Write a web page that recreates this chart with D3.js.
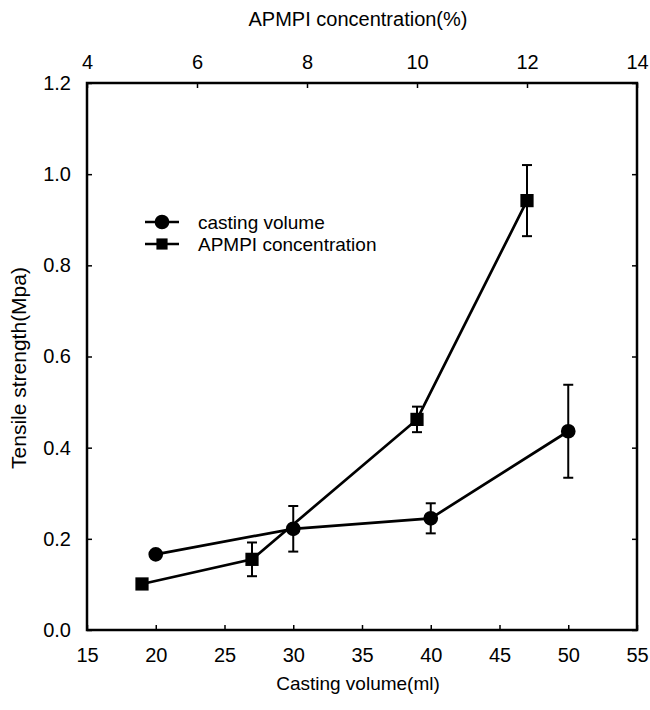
<!DOCTYPE html>
<html>
<head>
<meta charset="utf-8">
<script src="https://cdn.jsdelivr.net/npm/d3@7"></script>
<style>
  body { margin: 0; background: #fff; }
  svg { font-family: "Liberation Sans", Arial, sans-serif; }
</style>
</head>
<body>
<svg id="chart" width="650" height="710"></svg>
<script>
// casting volume series (bottom axis)
const volume = [20, 30, 40, 50];
const volumeTS = [0.166, 0.222, 0.245, 0.436];
const volumeErr = [0, 0.05, 0.033, 0.102];

// APMPI concentration series (top axis)
const conc = [5, 7, 10, 12];
const concTS = [0.101, 0.155, 0.462, 0.942];
const concErr = [0, 0.037, 0.028, 0.078];

const volTicks = [15, 20, 25, 30, 35, 40, 45, 50, 55];
const concTicks = [4, 6, 8, 10, 12, 14];
const tsTicks = [0, 0.2, 0.4, 0.6, 0.8, 1.0, 1.2];

const svg = d3.select("#chart");
const L = 87, R = 637, T = 83, B = 630;
const FS = 20;

const xVol = d3.scaleLinear().domain([15, 55]).range([L, R]);
const xConc = d3.scaleLinear().domain([4, 14]).range([L, R]);
const y = d3.scaleLinear().domain([0, 1.2]).range([B, T]);

// axes: ticks point inward, like the original
const styleAxis = g => {
  g.select(".domain").remove();
  g.selectAll(".tick line").attr("stroke", "#000").attr("stroke-width", 1.5);
  g.selectAll(".tick text").attr("fill", "#000").attr("font-size", FS);
};

svg.append("g")
  .attr("transform", `translate(0,${B})`)
  .call(d3.axisBottom(xVol).tickValues(volTicks).tickSizeInner(-5).tickPadding(18).tickSizeOuter(0))
  .call(styleAxis);

svg.append("g")
  .attr("transform", `translate(0,${T})`)
  .call(d3.axisTop(xConc).tickValues(concTicks).tickSizeInner(-5).tickPadding(14).tickSizeOuter(0))
  .call(styleAxis);

svg.append("g")
  .attr("transform", `translate(${L},0)`)
  .call(d3.axisLeft(y).tickValues(tsTicks).tickFormat(d3.format(".1f")).tickSizeInner(-5).tickPadding(16).tickSizeOuter(0))
  .call(styleAxis);

svg.append("g")
  .attr("transform", `translate(${R},0)`)
  .call(d3.axisRight(y).tickValues(tsTicks).tickFormat("").tickSizeInner(-5).tickSizeOuter(0))
  .call(styleAxis);

// frame
svg.append("rect")
  .attr("x", L).attr("y", T)
  .attr("width", R - L).attr("height", B - T)
  .attr("fill", "none").attr("stroke", "#000").attr("stroke-width", 2.5);

// axis titles
svg.append("text")
  .attr("x", 358).attr("y", 690)
  .attr("text-anchor", "middle").attr("font-size", 19)
  .text("Casting volume(ml)");

svg.append("text")
  .attr("x", 358).attr("y", 26)
  .attr("text-anchor", "middle").attr("font-size", 20)
  .text("APMPI concentration(%)");

svg.append("text")
  .attr("transform", `translate(26,368) rotate(-90)`)
  .attr("text-anchor", "middle").attr("font-size", 21)
  .text("Tensile strength(Mpa)");

const series = [
  { name: "casting volume", x: xVol, xs: volume, ys: volumeTS, err: volumeErr, shape: "circle" },
  { name: "APMPI concentration", x: xConc, xs: conc, ys: concTS, err: concErr, shape: "square" }
];

const line = d3.line();

series.forEach(s => {
  const pts = s.xs.map((v, i) => ({ px: s.x(v), py: y(s.ys[i]), v: s.ys[i], e: s.err[i] }));

  svg.append("path")
    .attr("d", line(pts.map(p => [p.px, p.py])))
    .attr("fill", "none").attr("stroke", "#000").attr("stroke-width", 2.7);

  // error bars
  const eb = svg.append("g").selectAll("g")
    .data(pts.filter(p => p.e > 0))
    .enter().append("g")
    .attr("stroke", "#000").attr("stroke-width", 2);
  eb.append("line")
    .attr("x1", p => p.px).attr("x2", p => p.px)
    .attr("y1", p => y(p.v + p.e)).attr("y2", p => y(p.v - p.e));
  eb.append("line")
    .attr("x1", p => p.px - 5).attr("x2", p => p.px + 5)
    .attr("y1", p => y(p.v + p.e)).attr("y2", p => y(p.v + p.e));
  eb.append("line")
    .attr("x1", p => p.px - 5).attr("x2", p => p.px + 5)
    .attr("y1", p => y(p.v - p.e)).attr("y2", p => y(p.v - p.e));

  // markers
  const sym = s.shape === "circle" ? d3.symbolCircle : d3.symbolSquare;
  const size = s.shape === "circle" ? 170 : 175;
  svg.append("g").selectAll("path")
    .data(pts)
    .enter().append("path")
    .attr("d", d3.symbol(sym, size))
    .attr("transform", p => `translate(${p.px},${p.py})`)
    .attr("fill", "#000");
});

// legend
const legend = svg.append("g").selectAll("g")
  .data(series)
  .enter().append("g")
  .attr("transform", (d, i) => `translate(145,${222 + i * 22})`);
legend.append("line")
  .attr("x1", 0).attr("x2", 34)
  .attr("stroke", "#000").attr("stroke-width", 2.7);
legend.append("path")
  .attr("d", d => d3.symbol(d.shape === "circle" ? d3.symbolCircle : d3.symbolSquare, d.shape === "circle" ? 170 : 125)())
  .attr("transform", "translate(17,0)")
  .attr("fill", "#000");
legend.append("text")
  .attr("x", 53).attr("dy", "0.35em")
  .attr("font-size", 19)
  .text(d => d.name);
</script>
</body>
</html>
